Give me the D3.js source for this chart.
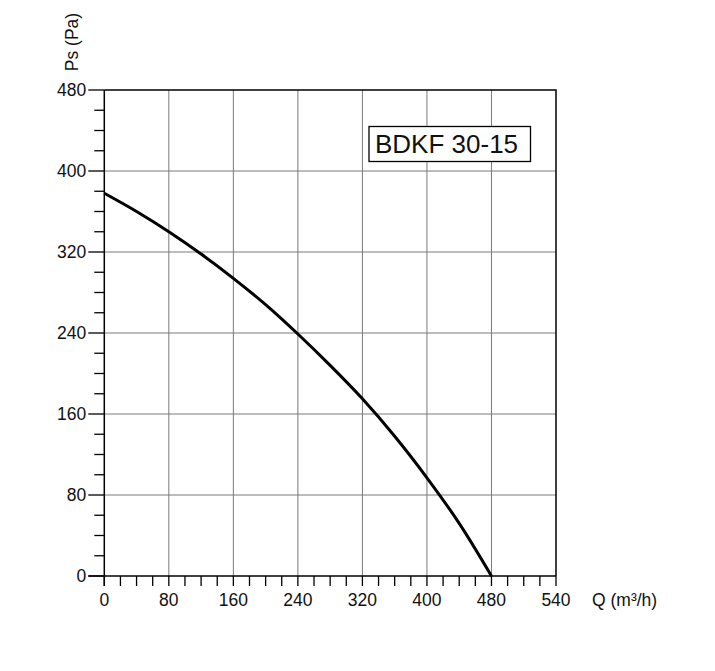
<!DOCTYPE html>
<html><head><meta charset="utf-8">
<script src="https://cdn.jsdelivr.net/npm/d3@7"></script>
<style>body{margin:0;background:#fff;} text{font-family:"Liberation Sans",Arial,sans-serif;fill:#111;}</style>
</head><body><svg id="c" width="715" height="671"></svg>
<script>
const flow = [0,40,80,120,160,200,240,280,320,360,400,440,480];
const pressure = [378,360,340,318,294,268,239,208,175,138,97,52,0];
const xTickValues = [0,80,160,240,320,400,480,560];
const xTickLabels = ["0","80","160","240","320","400","480","540"];
const yTickValues = [0,80,160,240,320,400,480];
const yTickLabels = ["0","80","160","240","320","400","480"];
const title = "BDKF 30-15";

const svg = d3.select("#c");
svg.append("rect").attr("width",715).attr("height",671).attr("fill","#fff");
const x = d3.scaleLinear().domain([0,560]).range([104.3,556]);
const y = d3.scaleLinear().domain([0,480]).range([576,90]);

// grid
const g = svg.append("g");
g.selectAll(".vg").data(xTickValues.slice(1,-1)).join("line")
  .attr("x1",d=>x(d)).attr("x2",d=>x(d)).attr("y1",y(0)).attr("y2",y(480))
  .attr("stroke","#7a7a7a").attr("stroke-width",1);
g.selectAll(".hg").data(yTickValues.slice(1,-1)).join("line")
  .attr("x1",x(0)).attr("x2",x(560)).attr("y1",d=>y(d)).attr("y2",d=>y(d))
  .attr("stroke","#7a7a7a").attr("stroke-width",1);

// border (top/right)
svg.append("path").attr("d",`M${x(0)},${y(480)}H${x(560)}V${y(0)}`)
  .attr("fill","none").attr("stroke","#000").attr("stroke-width",1.5);

// x axis
const xMinor = d3.range(0,561,20);
const xAxis = svg.append("g").attr("transform",`translate(0,${y(0)})`);
xAxis.append("line").attr("x1",x(0)-16).attr("x2",x(560)).attr("stroke","#000").attr("stroke-width",1.5);
xAxis.selectAll(".mt").data(xMinor).join("line")
  .attr("x1",d=>x(d)).attr("x2",d=>x(d)).attr("y1",0).attr("y2",10)
  .attr("stroke","#000").attr("stroke-width",1.3);
xAxis.selectAll(".lb").data(xTickValues).join("text")
  .attr("x",d=>x(d)).attr("y",30).attr("text-anchor","middle")
  .attr("font-size",17.5).text((d,i)=>xTickLabels[i]);

// y axis
const yMinor = d3.range(0,481,20);
const yAxis = svg.append("g").attr("transform",`translate(${x(0)},0)`);
yAxis.append("line").attr("y1",y(0)+10).attr("y2",y(480)).attr("stroke","#000").attr("stroke-width",1.5);
yAxis.selectAll(".mt").data(yMinor).join("line")
  .attr("x1",d=>yTickValues.includes(d)?-16:-10).attr("x2",0)
  .attr("y1",d=>y(d)).attr("y2",d=>y(d))
  .attr("stroke","#000").attr("stroke-width",1.3);
yAxis.selectAll(".lb").data(yTickValues).join("text")
  .attr("x",-18).attr("y",d=>y(d)).attr("dy","0.36em").attr("text-anchor","end")
  .attr("font-size",17.5).text((d,i)=>yTickLabels[i]);

// axis titles
svg.append("text").attr("transform","translate(78,42) rotate(-90)")
  .attr("text-anchor","middle").attr("font-size",17.5).text("Ps (Pa)");
svg.append("text").attr("x",592).attr("y",606).attr("font-size",17.5).text("Q (m³/h)");

// curve
const line = d3.line().x((d,i)=>x(flow[i])).y(d=>y(d)).curve(d3.curveCatmullRom.alpha(0.5));
svg.append("path").datum(pressure).attr("d",line)
  .attr("fill","none").attr("stroke","#000").attr("stroke-width",3);

// title box
svg.append("rect").attr("x",369).attr("y",126.5).attr("width",161.5).attr("height",35)
  .attr("fill","#fff").attr("stroke","#000").attr("stroke-width",1.3);
svg.append("text").attr("x",375).attr("y",153).attr("font-size",26).text(title);
</script></body></html>
